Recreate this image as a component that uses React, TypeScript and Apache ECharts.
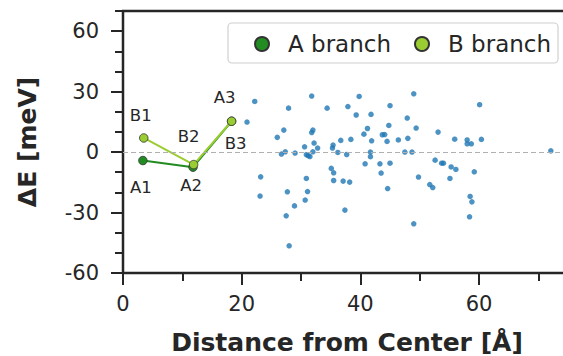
import React, { useEffect, useRef } from "react";
import * as echarts from "echarts";

const xTicks = [0, 20, 40, 60];
const yTicks = [-60, -30, 0, 30, 60];
const branchNames = ["A branch", "B branch"];
const branchALabels = ["A1", "A2", "A3"];
const branchAPoints = [[3.35, -4.2], [11.8, -7.5], [18.3, 15.3]];
const branchBLabels = ["B1", "B2", "B3"];
const branchBPoints = [[3.5, 7.0], [11.9, -6.2], [18.3, 15.3]];
const otherPoints = [
  [22.2, 25.1], [27.9, 21.8], [20.9, 14.9], [27.1, 10.9], [26.0, 7.3], [27.35, 0.15], [26.7, -1.0],
  [29.0, -0.5], [23.2, -12.3], [23.1, -21.8], [27.7, -19.7], [28.9, -26.7], [27.5, -31.6], [28.0, -46.5],
  [31.8, 27.8], [39.8, 27.6], [34.4, 21.8], [37.9, 22.6], [39.3, 18.4], [41.8, 18.7], [31.8, 9.7],
  [32.0, 10.9], [41.2, 11.7], [40.6, 8.9], [43.7, 8.6], [32.2, 4.5], [30.6, 2.6], [32.8, 2.0],
  [36.7, 5.8], [38.4, 6.3], [41.9, 5.6], [35.4, 3.5], [35.3, 2.0], [32.0, 0.15], [30.9, -1.3],
  [31.5, -2.2], [31.2, -1.8], [36.2, -0.2], [37.7, -1.2], [41.7, 0], [41.7, -2.3], [40.8, -5.8],
  [43.3, -5.8], [43.5, -10.4], [35.1, -8.1], [35.5, -10.3], [30.9, -13.1], [35.5, -14.1], [37.1, -14.4],
  [38.2, -14.9], [31.1, -19.6], [30.7, -23.8], [37.4, -28.8],
  [49.0, 28.9], [45.0, 23.0], [47.9, 16.9], [44.8, 13.2], [49.4, 11.9], [44.1, 8.7], [44.5, 5.3],
  [46.4, 6.0], [48.0, 6.8], [53.1, 9.9], [55.9, 6.4], [47.5, 0], [48.7, 0], [45.0, -5.5], [44.6, -18.1],
  [49.8, -12.4], [52.6, -4.0], [53.7, -5.5], [54.0, -5.5], [55.3, -7.4], [56.1, -8.6], [55.1, -13.1],
  [51.7, -16.1], [52.2, -17.6], [49.0, -35.6],
  [60.1, 23.5], [58.0, 6.0], [58.0, 4.1], [58.7, 4.1], [60.4, 6.3], [72.1, 0.6], [59.2, -9.8],
  [58.5, -22.0], [58.8, -24.7], [58.4, -32.1],
];

const FONT = "DejaVu Sans";
const INK = "#262626";
const labelOffsetsA = [[-2, 27], [-2, 18], [-7, -24]];
const labelOffsetsB = [[-3, -22], [-5, -28], [4, 22]];

function buildOption() {
  const tickStyle = { color: INK, width: 2 };
  const branch = (name: string, pts: number[][], labels: string[], offs: number[][], color: string) => ({
    type: "line",
    name,
    xAxisIndex: 0,
    yAxisIndex: 0,
    data: pts.map((p, i) => ({
      value: p,
      label: { show: true, formatter: labels[i], position: "inside", offset: offs[i] },
    })),
    symbol: "circle",
    symbolSize: 8.5,
    itemStyle: { color, borderColor: "#333", borderWidth: 0.8 },
    lineStyle: { color, width: 2 },
    label: { fontSize: 16.5, color: INK, fontFamily: FONT },
    emphasis: { disabled: true },
    z: 3,
  });
  return {
    animation: false,
    textStyle: { fontFamily: FONT },
    grid: {
      left: 123, top: 11, right: -8, bottom: 83,
      outerBoundsMode: "none", containLabel: false,
      show: true, borderColor: INK, borderWidth: 2.5, backgroundColor: "transparent",
    },
    legend: {
      data: branchNames,
      left: 228, top: 23,
      itemWidth: 14, itemHeight: 14, itemGap: 23, icon: "circle",
      padding: [9, 7, 7, 26],
      backgroundColor: "#fff", borderColor: "#d0d0d0", borderWidth: 1.2, borderRadius: 4,
      textStyle: { fontSize: 23, color: INK, fontFamily: FONT, lineHeight: 24, padding: [0, 0, 0, 14] },
    },
    xAxis: [
      {
        type: "value", min: 0, max: 75.5, interval: 10,
        axisLine: { show: false, onZero: false },
        axisTick: { show: true, length: 8, lineStyle: tickStyle },
        axisLabel: { show: false }, splitLine: { show: false },
      },
      {
        type: "value", min: 0, max: 75.5, position: "bottom",
        axisLine: { show: false, onZero: false },
        axisTick: { show: true, length: 12, customValues: xTicks, lineStyle: tickStyle },
        axisLabel: { show: true, customValues: xTicks, margin: 20, fontSize: 21, color: INK, fontFamily: FONT },
        splitLine: { show: false },
        name: "Distance from Center [Å]", nameLocation: "middle", nameGap: 56,
        nameTextStyle: { fontSize: 25, lineHeight: 26, fontWeight: "bold", color: INK, fontFamily: FONT },
      },
    ],
    yAxis: [
      {
        type: "value", min: -60, max: 70, interval: 10,
        axisLine: { show: false, onZero: false },
        axisTick: { show: true, length: 8, lineStyle: tickStyle },
        axisLabel: { show: false }, splitLine: { show: false },
      },
      {
        type: "value", min: -60, max: 70, position: "left",
        axisLine: { show: false, onZero: false },
        axisTick: { show: true, length: 12, customValues: yTicks, lineStyle: tickStyle },
        axisLabel: { show: true, customValues: yTicks, margin: 24, fontSize: 21, color: INK, fontFamily: FONT },
        splitLine: { show: false },
        name: "ΔE [meV]", nameLocation: "middle", nameGap: 83, nameRotate: 90,
        nameTextStyle: { fontSize: 25, fontWeight: "bold", color: INK, fontFamily: FONT },
      },
    ],
    series: [
      {
        type: "scatter", name: "others", xAxisIndex: 0, yAxisIndex: 0,
        data: otherPoints, symbolSize: 5.5,
        itemStyle: { color: "#1f77b4" },
        emphasis: { disabled: true },
        z: 2,
        markLine: {
          silent: true, symbol: "none", label: { show: false },
          lineStyle: { color: "#b0b0b0", type: [5, 3], width: 1.2 },
          data: [{ yAxis: 0 }],
        },
      },
      branch(branchNames[0], branchAPoints, branchALabels, labelOffsetsA, "#228b22"),
      branch(branchNames[1], branchBPoints, branchBLabels, labelOffsetsB, "#9acd32"),
    ],
  };
}

export default function App() {
  const ref = useRef<HTMLDivElement>(null);
  useEffect(() => {
    if (!ref.current) return;
    const chart = echarts.init(ref.current, undefined, { renderer: "svg" });
    chart.setOption(buildOption() as any);
    return () => chart.dispose();
  }, []);
  return (
    <div
      ref={ref}
      style={{ position: "fixed", left: 0, top: 0, width: 563, height: 356, background: "#fff" }}
    />
  );
}
